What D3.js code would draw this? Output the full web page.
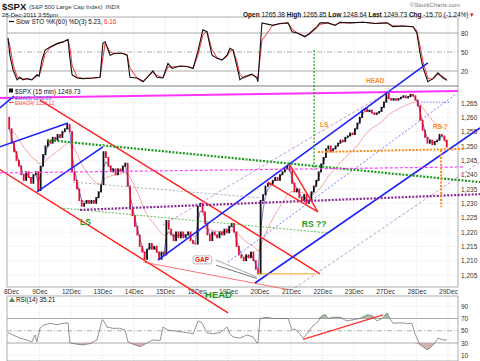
<!DOCTYPE html>
<html><head><meta charset="utf-8">
<script src="https://cdnjs.cloudflare.com/ajax/libs/d3/7.8.5/d3.min.js"></script>
<style>
body{margin:0;background:#fff}
svg{display:block;font-family:"Liberation Sans",Arial,sans-serif}
</style></head><body>
<svg id="chart" width="480" height="361"></svg>
<script>
// ---- data ----
var dayLabels = ["8Dec","9Dec","12Dec","13Dec","14Dec","15Dec","16Dec","19Dec","20Dec","21Dec","22Dec","23Dec","27Dec","28Dec","29Dec"]
var firstOpen = 1260
// half-hour closes, 13 per session
var closes = [
	1256,1251,1248,1245,1243,1240,1238,1241,1239,1237,1240,1241,1234.5,
	1243,1247,1250,1252,1251,1253,1252,1254,1253,1255,1256,1257.5,1255,
	1241,1238,1235,1231,1229,1230,1231,1230,1231,1230,1232,1234,1236.5,
	1248,1246,1243,1241,1242,1240,1242,1241,1243,1244,1236,1228,1225.7,
	1222,1219,1215,1213,1210.5,1214,1216,1214,1215,1213,1210.5,1213,1212,
	1224,1221,1219,1217,1220,1218,1220,1218,1219,1220,1217,1216,1215.8,
	1229,1230,1227,1223,1219,1217,1220,1219,1218,1220,1219,1221,1219.7,
	1222,1223,1220,1215,1212,1211,1210,1212,1211,1213,1210,1207,1205.4,
	1231,1233,1236,1237,1236.5,1238,1239,1238,1240,1241,1242,1243,1241.3,
	1237,1234,1235,1232,1231,1233,1230,1231,1234,1236,1238,1241,1243.7,
	1246,1249,1250,1248,1249,1250,1251,1252,1251.5,1253,1253.5,1254.5,1254,
	1256,1258,1260,1262.5,1263,1262,1262.5,1261.5,1261,1261.5,1262,1263.5,1265.3,
	1268.8,1266.5,1266,1266.5,1266,1266.5,1267,1267.5,1266.8,1267.2,1268,1267.5,1266,
	1264,1259,1255.5,1253,1251,1252,1250.5,1251.5,1252,1254,1253.5,1252,1249.7
]
var barsPerDay = 13
var priceTicks = [1205,1210,1215,1220,1225,1230,1235,1240,1245,1250,1255,1260,1265]

// slow stochastic %K (time in sessions)
var stoT = [0,0.06,0.16,0.29,0.38,0.48,0.6,0.76,0.92,0.99,1.08,1.18,1.34,1.59,1.75,1.91,1.97,2.04,2.2,2.39,2.7,2.93,3.02,3.09,3.25,3.4,3.63,3.79,3.88,4.1,4.3,4.61,4.74,4.93,5.09,5.22,5.47,5.7,5.89,6.05,6.2,6.33,6.49,6.65,6.81,6.97,7.06,7.16,7.29,7.38,7.48,7.76,7.92,7.95,8.08,8.43,8.65,8.91,9.04,9.2,9.45,9.61,9.83,9.93,10.18,10.4,10.56,10.88,11.3,11.68,12.06,12.25,12.57,12.89,13.01,13.11,13.2,13.36,13.52,13.68,13.84,13.97]
var stoK = [72,45,22,6,10,6,8,6,14,12,37,53,58,64,66,70,40,14,9,8,9,10,64,66,45,48,48,45,10,9,3,20,10,9,32,24,28,27,24,53,85,82,45,40,37,45,56,53,26,6,10,15,9,3,96,92,95,96,82,80,74,80,90,96,96,92,97,96,97,95,96,90,91,90,80,48,26,3,8,17,9,5.2]
var stoTicks = [20,50,80]

// RSI(14)
var rsiT = [0,0.16,0.38,0.6,0.76,0.86,0.92,1.02,1.11,1.34,1.56,1.75,1.91,1.97,2.2,2.39,2.61,2.83,2.99,3.02,3.15,3.34,3.56,3.72,3.82,3.98,4.2,4.42,4.61,4.84,4.93,5.09,5.38,5.7,5.89,6.05,6.17,6.33,6.52,6.75,6.97,7.06,7.16,7.38,7.6,7.8,7.92,7.95,8.02,8.24,8.43,8.65,8.91,9.04,9.13,9.29,9.39,9.51,9.67,9.83,9.99,10.09,10.18,10.34,10.56,10.78,10.98,11.2,11.42,11.58,11.74,11.9,12.06,12.15,12.25,12.47,12.7,12.85,12.95,13.11,13.2,13.33,13.43,13.58,13.68,13.84,13.97]
var rsiV = [47,43,38,35,32,43,32,54,59,62,60,62,63,30,28,27,29,35,67,68,56,54,54,51,32,28,24,30,35,34,56,51,49,47,45,66,63,47,45,47,56,45,40,38,43,40,30,30,70,72,70,70,70,51,53,45,38,45,56,63,74,77,70,72,72,66,68,70,76,75,66,70,79,70,62,63,62,62,45,27,24,19,22,30,38,35,35.2]
var rsiTicks = [10,30,50,70,90]

// drawn trend lines: kind, session, price, session, price
var trendLines = [
	["magenta",-0.26,1266.7,14.32,1269.2],
	["blue",-0.26,1263.3,0.19,1267.4],
	["red",1.02,1266.0,9.93,1205.4],
	["red",-0.26,1241.8,7.0,1191.8],
	["redThin",4.3,1209.5,8.97,1199.8],
	["blue",-0.26,1249.7,1.91,1258.0],
	["blue",0.92,1234.0,3.02,1249.7],
	["blue",4.77,1210.2,13.36,1279.0],
	["blue",7.86,1202.2,15.02,1256.3],
	["blueDash",7.0,1209.5,14.22,1267.8],
	["blueDot",13.04,1265.3,14.06,1265.3],
	["greenDot",1.24,1252.1,15.02,1237.4],
	["greenThin",1.65,1228.4,10.15,1219.7],
	["purpleDot",2.29,1227.7,15.02,1233.2],
	["magentaDash",-0.26,1240.6,14.48,1242.7],
	["purpleThin",4.93,1222.4,12.47,1271.3],
	["purpleThin",9.13,1200.5,15.02,1244.4],
	["grayDot",2.07,1237.4,8.02,1231.9],
	["gap",6.62,1210.2,7.92,1204.3],
	["gapDark",6.62,1208.4,7.92,1203.8],
	["orange",7.95,1205.4,9.77,1205.4],
	["orangeDot",9.86,1247.9,14.54,1249.0],
	["orangeDot",13.78,1248.6,13.78,1228.7],
	["greenV",9.74,1283.5,9.74,1241.6],
	["red",8.27,1237.4,9.86,1227.0],
	["red",8.97,1243.4,9.86,1227.0]
]
var rsiLine = [9.39,36,11.93,76]
// text notes: text, kind, session, price
var notes = [
	["LS","green",2.29,1222.4],
	["RS ??","green",9.35,1221.7],
	["HEAD","green",6.27,1197],
	["LS","orange",9.93,1256.6],
	["HEAD","orange",11.39,1272],
	["RS ?","orange",13.52,1255.9]
]

// ---- layout ----
var svg = d3.select("#chart")
var L = 7, R = 458
var sto = {top:17, bottom:86}, main = {top:86, bottom:287}, rsi = {top:296, bottom:361}

var x = d3.scaleLinear().domain([0, 14]).range([8, 448])
var yP = d3.scaleLinear().domain([1205, 1265]).range([275, 103])
var yS = d3.scaleLinear().domain([20, 80]).range([71, 33])
var yR = d3.scaleLinear().domain([30, 70]).range([343, 318.5])

var barT = function(i){ return (i + 0.5) / barsPerDay }

// panel frames + grids
;[sto, main, rsi].forEach(function(p){
	var g = svg.append("g")
	g.selectAll("line.v").data(d3.range(1, 15)).enter().append("line")
		.attr("x1", function(d){ return x(d) }).attr("x2", function(d){ return x(d) })
		.attr("y1", p.top).attr("y2", p.bottom)
		.attr("stroke", "#dcdcdc").attr("stroke-width", 0.7).attr("stroke-dasharray", "1,1")
	g.append("rect").attr("x", L).attr("y", p.top).attr("width", R - L).attr("height", p.bottom - p.top)
		.attr("fill", "none").attr("stroke", "#999").attr("stroke-width", 0.8)
})

// price horizontal grid
svg.append("g").selectAll("line").data(priceTicks).enter().append("line")
	.attr("x1", L).attr("x2", R).attr("y1", function(d){ return yP(d) }).attr("y2", function(d){ return yP(d) })
	.attr("stroke", "#e2e2e2").attr("stroke-width", 0.7).attr("stroke-dasharray", "1,1")

// sto / rsi reference lines
function refLines(scale, solid, dashed){
	solid.forEach(function(v){
		svg.append("line").attr("x1", L).attr("x2", R).attr("y1", scale(v)).attr("y2", scale(v))
			.attr("stroke", "#aaa").attr("stroke-width", 1)
	})
	dashed.forEach(function(v){
		svg.append("line").attr("x1", L).attr("x2", R).attr("y1", scale(v)).attr("y2", scale(v))
			.attr("stroke", "#999").attr("stroke-width", 0.8).attr("stroke-dasharray", "5,2,1,2")
	})
}
refLines(yS, [20, 80], [50])
refLines(yR, [30, 70], [50])
;[10, 90].forEach(function(v){
	svg.append("line").attr("x1", L).attr("x2", R).attr("y1", yR(v)).attr("y2", yR(v))
		.attr("stroke", "#e2e2e2").attr("stroke-width", 0.7).attr("stroke-dasharray", "1,1")
})

// right axes
function rightAxis(scale, ticks){
	var a = svg.append("g").attr("transform", "translate(" + (R + 2) + ",0)")
		.call(d3.axisRight(scale).tickValues(ticks).tickSize(0).tickPadding(1))
	a.select(".domain").remove()
	a.selectAll("text").attr("font-size", 6.5).attr("fill", "#333").attr("font-family", "Liberation Sans, Arial")
}
rightAxis(yP, priceTicks)
rightAxis(yS, stoTicks)
rightAxis(yR, rsiTicks)

// date axis
var da = svg.append("g").attr("transform", "translate(0," + main.bottom + ")")
	.call(d3.axisBottom(x).tickValues(d3.range(0, 15)).tickSize(0).tickPadding(2)
		.tickFormat(function(d){ return dayLabels[d] }))
da.select(".domain").remove()
da.selectAll("text").attr("font-size", 6.5).attr("fill", "#333").attr("font-family", "Liberation Sans, Arial")
	.attr("x", function(d){ return d === 0 ? 3 : 0 })

// ---- STO panel ----
function interp(ts, vs, t){
	if(t <= ts[0]) return vs[0]
	for(var i = 1; i < ts.length; i++){
		if(t <= ts[i]){ var f = (t - ts[i-1]) / (ts[i] - ts[i-1]); return vs[i-1] + f * (vs[i] - vs[i-1]) }
	}
	return vs[vs.length - 1]
}
var stoPts = stoT.map(function(t, i){ return [t, stoK[i]] })
// %D = 3-bar average of %K on 15-minute bars
var stoD = stoT.map(function(t){
	var s = 0
	for(var k = 0; k < 3; k++) s += interp(stoT, stoK, t - k / 26)
	return [t, s / 3]
})
var lineS = d3.line().x(function(d){ return x(d[0]) }).y(function(d){ return yS(d[1]) })
svg.append("path").attr("d", lineS(stoD)).attr("fill", "none").attr("stroke", "#ff3030").attr("stroke-width", 1)
svg.append("path").attr("d", lineS(stoPts)).attr("fill", "none").attr("stroke", "#111").attr("stroke-width", 1.1)

// ---- RSI panel ----
var rsiPts = rsiT.map(function(t, i){ return [t, rsiV[i]] })
svg.append("path").datum(rsiPts)
	.attr("d", d3.area().x(function(d){ return x(d[0]) }).y0(yR(70)).y1(function(d){ return yR(Math.max(70, d[1])) }))
	.attr("fill", "#8fae8f").attr("opacity", 0.8)
svg.append("path").datum(rsiPts)
	.attr("d", d3.area().x(function(d){ return x(d[0]) }).y0(yR(30)).y1(function(d){ return yR(Math.min(30, d[1])) }))
	.attr("fill", "#c9a0a0").attr("opacity", 0.8)
svg.append("path").datum(rsiPts)
	.attr("d", d3.line().x(function(d){ return x(d[0]) }).y(function(d){ return yR(d[1]) }))
	.attr("fill", "none").attr("stroke", "#777").attr("stroke-width", 0.8)
svg.append("line").attr("x1", x(rsiLine[0])).attr("y1", yR(rsiLine[1])).attr("x2", x(rsiLine[2])).attr("y2", yR(rsiLine[3]))
	.attr("stroke", "#ff3030").attr("stroke-width", 1.2)

// ---- price panel ----
function ema(vals, n){
	var a = 2 / (n + 1), out = [], prev = vals[0]
	vals.forEach(function(v){ prev = prev + a * (v - prev); out.push(prev) })
	return out
}
// 15-minute periods 5 and 34 expressed on half-hour bars
var emaFast = ema(closes, 2.5), emaSlow = ema(closes, 17)
var lineP = d3.line().x(function(d, i){ return x(barT(i)) }).y(function(d){ return yP(d) })
svg.append("path").attr("d", lineP(emaSlow)).attr("fill", "none").attr("stroke", "#f4a6a6").attr("stroke-width", 1)
svg.append("path").attr("d", lineP(emaFast)).attr("fill", "none").attr("stroke", "#6a6acc").attr("stroke-width", 0.9)

svg.append("g").selectAll("rect").data(closes).enter().append("rect")
	.attr("x", function(d, i){ return x(barT(i)) - 0.9 })
	.attr("width", 1.8)
	.attr("y", function(d, i){ var o = i ? closes[i-1] : firstOpen; return yP(Math.max(o, d)) - 0.5 })
	.attr("height", function(d, i){ var o = i ? closes[i-1] : firstOpen; return Math.max(1.5, Math.abs(yP(o) - yP(d)) + 1) })
	.attr("fill", function(d, i){ var o = i ? closes[i-1] : firstOpen; return d >= o ? "#111" : "#e0102e" })

// ---- annotations ----
var lineStyle = {
	magenta: ["#ff33ff", 2, null],
	blue: ["#1f1fff", 1.6, null],
	red: ["#ff2020", 1.4, null],
	redThin: ["#ff5050", 0.8, null],
	blueDash: ["#5a5aff", 0.8, "2,2"],
	blueDot: ["#5a5aff", 0.8, "1.5,1.5"],
	greenDot: ["#1c9a1c", 2.2, "2,1.5"],
	greenThin: ["#3cb43c", 0.8, "2,1.5"],
	purpleDot: ["#8a2a96", 2.2, "2,1.5"],
	magentaDash: ["#ff40ff", 1.2, "3,2"],
	purpleThin: ["#b27ad6", 0.8, "3,2"],
	grayDot: ["#999", 0.8, "2,2"],
	gap: ["#aaa", 1, null],
	gapDark: ["#555", 0.8, null],
	orange: ["#f5a623", 1, null],
	orangeDot: ["#ff8a1a", 2, "2,1.5"],
	greenV: ["#1c9a1c", 1.2, "2,1.5"]
}
svg.append("g").selectAll("line").data(trendLines).enter().append("line")
	.attr("x1", function(d){ return x(d[1]) }).attr("y1", function(d){ return yP(d[2]) })
	.attr("x2", function(d){ return x(d[3]) }).attr("y2", function(d){ return yP(d[4]) })
	.attr("stroke", function(d){ return lineStyle[d[0]][0] })
	.attr("stroke-width", function(d){ return lineStyle[d[0]][1] })
	.attr("stroke-dasharray", function(d){ return lineStyle[d[0]][2] })

var noteStyle = {green: ["#1c9a1c", 8.5], orange: ["#ff8a1a", 6.5]}
svg.append("g").selectAll("text").data(notes).enter().append("text")
	.attr("x", function(d){ return x(d[2]) }).attr("y", function(d){ return yP(d[3]) })
	.attr("fill", function(d){ return noteStyle[d[1]][0] })
	.attr("font-size", function(d){ return d[0] === "HEAD" && d[1] === "green" ? 9.5 : noteStyle[d[1]][1] })
	.attr("font-weight", "bold")
	.text(function(d){ return d[0] })

// GAP callout
var gapG = svg.append("g")
var gapText = gapG.append("text").attr("x", x(5.95)).attr("y", yP(1209.4))
	.attr("fill", "#e01010").attr("font-size", 6.5).attr("font-weight", "bold").text("GAP")
var bb = gapText.node().getBBox()
gapG.insert("rect", "text").attr("x", bb.x - 2).attr("y", bb.y - 0.5).attr("width", bb.width + 4).attr("height", bb.height + 1)
	.attr("rx", 1.5).attr("fill", "#fff").attr("stroke", "#aaa").attr("stroke-width", 0.8)

// ---- legends & header ----
function txt(xp, yp, s, size, color, weight){
	return svg.append("text").attr("x", xp).attr("y", yp).attr("font-size", size)
		.attr("fill", color || "#111").attr("font-weight", weight || "normal").text(s)
}
var t1 = txt(2, 9.5, "$SPX", 9.5, "#111", "bold")
var endX = t1.node().getBBox().x + t1.node().getBBox().width + 2
var t2 = txt(endX, 9, "(S&P 500 Large Cap Index)", 6, "#333")
endX = t2.node().getBBox().x + t2.node().getBBox().width + 3
txt(endX, 9, "INDX", 6, "#333")
txt(2, 16.8, "28-Dec-2011 3:55pm", 6, "#222")
txt(410, 6.5, "\u00a9StockCharts.com", 6, "#777")

var hdr = svg.append("text").attr("x", 243).attr("y", 16.5).attr("font-size", 6.5).attr("fill", "#111")
;[["Open ", true], ["1265.38 ", false], [" High ", true], ["1265.85 ", false], [" Low ", true], ["1248.64 ", false],
 [" Last ", true], ["1249.73 ", false], [" Chg ", true], ["-15.70 (-1.24%) ", false]].forEach(function(p){
	hdr.append("tspan").attr("font-weight", p[1] ? "bold" : "normal").text(p[0])
})
hdr.append("tspan").attr("fill", "#e01010").text("\u25BE")

// STO legend
svg.append("line").attr("x1", 9).attr("x2", 14).attr("y1", 21.5).attr("y2", 21.5).attr("stroke", "#111").attr("stroke-width", 1.2)
var sl = svg.append("text").attr("x", 16).attr("y", 23.5).attr("font-size", 6.3).attr("fill", "#111")
sl.append("tspan").text("Slow STO %K(60) %D(3) 5.23, ")
sl.append("tspan").attr("fill", "#ff3030").text("6.16")

// price legend
svg.append("rect").attr("x", 9).attr("y", 88.5).attr("width", 4).attr("height", 4).attr("fill", "#111")
txt(15, 93.5, "$SPX (15 min) 1249.73", 6.3, "#111")
svg.append("line").attr("x1", 9).attr("x2", 14).attr("y1", 97.5).attr("y2", 97.5).attr("stroke", "#6a6acc")
txt(15, 99.5, "EMA(5) 1251.65", 5, "#5a5acc")
svg.append("line").attr("x1", 9).attr("x2", 14).attr("y1", 102.5).attr("y2", 102.5).attr("stroke", "#ff5050")
txt(15, 104.5, "EMA(34) 1256.12", 5, "#ff4040")

// RSI legend
svg.append("path").attr("d", "M9,302 L12,297 L15,302 Z").attr("fill", "#5a8a5a")
txt(16, 302, "RSI(14) 35.21", 6.3, "#111")
</script>
</body></html>
